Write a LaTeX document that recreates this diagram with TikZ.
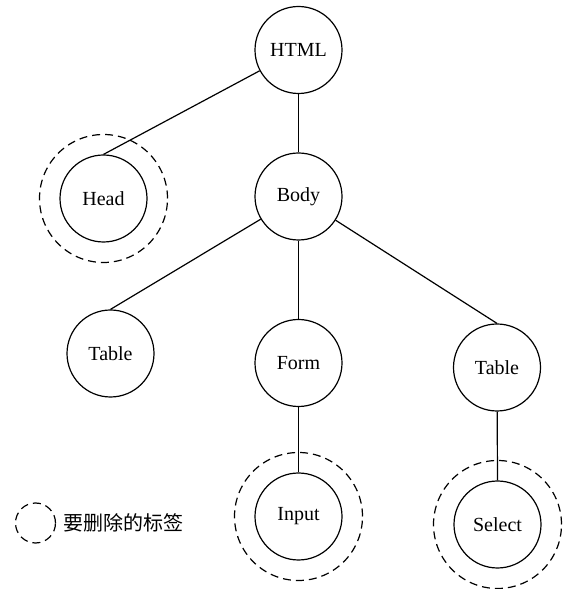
\documentclass[tikz,border=0pt]{standalone}
\usepackage{fontspec}
\setmainfont{Liberation Serif}
\newfontfamily\cjk{Noto Sans CJK SC}
\usetikzlibrary{positioning}

\begin{document}
\begin{tikzpicture}[x=0.5pt, y=0.5pt, line width=0.6pt,
	every node/.style={font=\fontsize{10pt}{12pt}\selectfont},
	tag/.style={draw, circle, minimum size=43.5pt, inner sep=0pt},
	removed/.style={dashed, dash pattern=on 4pt off 2.5pt}]
	\useasboundingbox (0,0) rectangle (565,589);
	% tree nodes
	\node[tag] (html) at (298.5,539) {HTML};
	\node[tag] (head) at (103.5,390.5) {Head};
	\node[tag] (body) at (298.5,392.5) {Body};
	\node[tag] (tableL) at (110.5,235.5) {Table};
	\node[tag] (form) at (298.5,226) {Form};
	\node[tag] (tableR) at (497,221.5) {Table};
	\node[tag] (input) at (298.5,72.5) {Input};
	\node[tag] (select) at (497.5,64.5) {Select};
	% edges
	\draw (html) -- (head.north);
	\draw (html) -- (body.north);
	\draw (body) -- (tableL.north);
	\draw (body) -- (form.north);
	\draw (body) -- (tableR.north);
	\draw (form) -- (input.north);
	\draw (tableR) -- (select.north);
	% tags to be removed
	\draw[removed] (head.center) circle (32pt);
	\draw[removed] (input.center) circle (32pt);
	\draw[removed] (select.center) circle (32pt);
	% legend
	\coordinate (key) at (35.5,66);
	\draw[removed] (key) circle (10pt);
	\node[anchor=west, inner sep=0pt, font=\fontsize{10pt}{12pt}\cjk] (keytext) at (63,66) {要删除的标签};
\end{tikzpicture}
\end{document}
